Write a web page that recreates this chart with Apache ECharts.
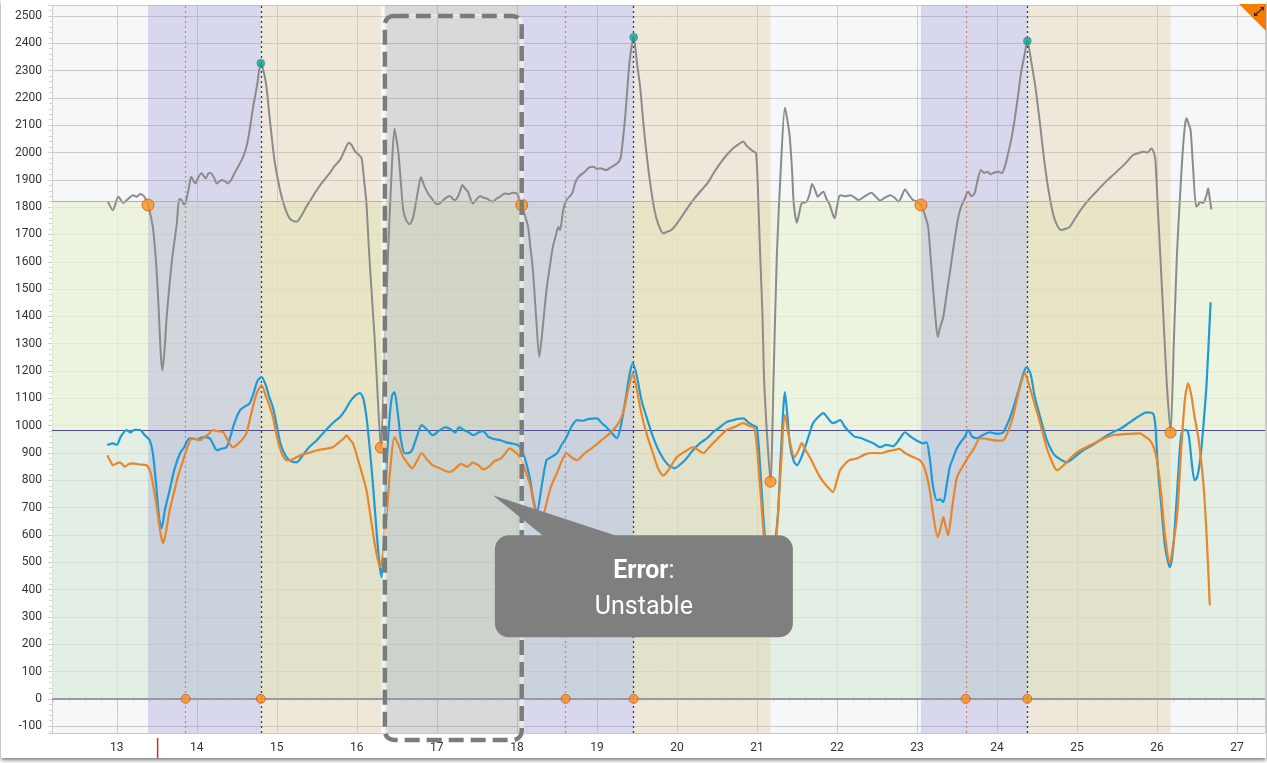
<!DOCTYPE html>
<html>
<head>
<meta charset="utf-8">
<script src="https://cdn.jsdelivr.net/npm/echarts@6/dist/echarts.min.js"></script>
<style>
  html, body { margin: 0; padding: 0; background: #ffffff; }
  #card { position: absolute; left: 1px; top: 0; width: 1265px; height: 758px; background: #fff;
          box-shadow: 0 2px 4px rgba(0,0,0,0.55); }
  #chart { width: 1265px; height: 758px; }
</style>
</head>
<body>
<div id="card"><div id="chart"></div></div>
<script>
// ---- axis ranges ----
const xRange = [12.19, 27.35];
const yRange = [-125, 2540];

// ---- pressure trace (grey) ----
const greyTrace = [
  [12.89,1820],[12.95,1789],[13.02,1838],[13.08,1816],[13.14,1830],[13.2,1844],[13.25,1838],[13.29,1848],[13.34,1840],[13.39,1808],
  [13.45,1728],[13.49,1600],[13.52,1447],[13.55,1260],[13.57,1203],[13.6,1290],[13.62,1386],[13.66,1520],[13.7,1631],[13.75,1740],
  [13.78,1830],[13.81,1826],[13.84,1810],[13.86,1816],[13.9,1870],[13.93,1911],[13.98,1887],[14.02,1910],[14.06,1924],[14.11,1905],
  [14.15,1925],[14.18,1924],[14.22,1905],[14.25,1887],[14.31,1899],[14.35,1895],[14.39,1887],[14.43,1900],[14.47,1924],[14.52,1950],
  [14.58,1985],[14.62,2020],[14.66,2082],[14.7,2160],[14.75,2241],[14.8,2327],[14.84,2290],[14.87,2241],[14.92,2100],[14.97,1973],
  [15.02,1890],[15.06,1838],[15.11,1790],[15.16,1759],[15.2,1750],[15.25,1747],[15.3,1765],[15.37,1802],[15.43,1830],[15.5,1863],
  [15.58,1895],[15.66,1924],[15.72,1950],[15.79,1973],[15.85,2010],[15.9,2036],[15.94,2025],[15.98,2003],[16.03,1990],[16.06,1979],
  [16.09,1900],[16.12,1814],[16.15,1650],[16.18,1509],[16.22,1330],[16.25,1167],[16.3,920],[16.35,1300],[16.39,1631],[16.43,1900],
  [16.47,2088],[16.5,2040],[16.52,1997],[16.55,1890],[16.58,1789],[16.62,1750],[16.66,1738],[16.7,1760],[16.73,1802],[16.77,1870],
  [16.8,1909],[16.84,1880],[16.89,1850],[16.94,1830],[17.0,1811],[17.04,1815],[17.08,1826],[17.12,1835],[17.16,1841],[17.2,1830],
  [17.23,1826],[17.28,1850],[17.32,1881],[17.36,1865],[17.39,1856],[17.42,1830],[17.45,1814],[17.5,1830],[17.54,1841],[17.58,1835],
  [17.62,1832],[17.66,1825],[17.7,1820],[17.74,1830],[17.79,1838],[17.85,1850],[17.9,1848],[17.95,1853],[18.0,1850],[18.06,1808],
  [18.1,1770],[18.14,1728],[18.17,1650],[18.2,1570],[18.24,1400],[18.28,1252],[18.32,1350],[18.37,1496],[18.41,1580],[18.45,1655],
  [18.49,1700],[18.52,1728],[18.54,1716],[18.58,1790],[18.62,1826],[18.69,1850],[18.73,1890],[18.77,1911],[18.85,1930],[18.9,1945],
  [18.96,1948],[19.0,1940],[19.04,1942],[19.12,1936],[19.17,1945],[19.22,1954],[19.27,1965],[19.3,1985],[19.35,2119],[19.38,2230],
  [19.41,2339],[19.46,2422],[19.5,2330],[19.54,2241],[19.58,2110],[19.62,1997],[19.67,1880],[19.72,1789],[19.77,1735],[19.83,1704],
  [19.88,1710],[19.93,1716],[20.0,1740],[20.06,1765],[20.14,1800],[20.22,1832],[20.3,1860],[20.38,1887],[20.46,1925],[20.54,1960],
  [20.62,1990],[20.7,2015],[20.77,2030],[20.83,2040],[20.87,2025],[20.91,2015],[20.95,2005],[20.99,1997],[21.02,1800],[21.04,1631],
  [21.07,1400],[21.09,1167],[21.13,950],[21.17,795],[21.21,1200],[21.25,1631],[21.3,1950],[21.35,2165],[21.38,2120],[21.41,2058],
  [21.44,1930],[21.46,1814],[21.5,1743],[21.53,1780],[21.56,1814],[21.62,1820],[21.66,1850],[21.69,1885],[21.73,1860],[21.76,1838],
  [21.8,1850],[21.83,1856],[21.87,1830],[21.91,1808],[21.97,1759],[22.0,1800],[22.04,1844],[22.1,1840],[22.17,1844],[22.22,1835],
  [22.27,1826],[22.35,1840],[22.43,1853],[22.48,1840],[22.54,1824],[22.6,1835],[22.67,1844],[22.72,1835],[22.77,1820],[22.81,1840],
  [22.85,1865],[22.9,1845],[22.95,1826],[23.0,1820],[23.05,1808],[23.1,1770],[23.14,1728],[23.17,1620],[23.2,1509],[23.23,1400],
  [23.26,1325],[23.29,1360],[23.33,1399],[23.37,1480],[23.41,1557],[23.46,1660],[23.51,1753],[23.55,1800],[23.59,1826],[23.64,1856],
  [23.68,1840],[23.72,1850],[23.76,1900],[23.8,1936],[23.84,1925],[23.88,1930],[23.92,1920],[23.96,1926],[24.02,1930],[24.06,1924],
  [24.1,1950],[24.14,1997],[24.18,2050],[24.22,2119],[24.26,2200],[24.3,2290],[24.34,2350],[24.38,2408],[24.43,2330],[24.48,2241],
  [24.54,2100],[24.59,1973],[24.64,1870],[24.7,1777],[24.75,1735],[24.8,1716],[24.85,1720],[24.91,1728],[24.98,1760],[25.06,1795],
  [25.14,1825],[25.22,1850],[25.3,1875],[25.38,1899],[25.46,1920],[25.54,1942],[25.62,1965],[25.7,1991],[25.77,1998],[25.83,2003],
  [25.88,2000],[25.93,2015],[25.96,2000],[25.98,1973],[26.01,1800],[26.04,1631],[26.08,1400],[26.12,1167],[26.17,975],[26.21,1300],
  [26.25,1631],[26.29,1850],[26.32,1997],[26.35,2100],[26.37,2125],[26.39,2110],[26.42,2082],[26.45,1950],[26.49,1802],[26.52,1810],
  [26.54,1820],[26.57,1815],[26.59,1820],[26.62,1845],[26.64,1869],[26.66,1830],[26.68,1792]
];

// ---- blue trace ----
const blueTrace = [
  [12.88,929],[12.95,935],[13.0,930],[13.05,960],[13.12,984],[13.17,975],[13.22,985],[13.29,984],[13.35,965],[13.41,947],
  [13.45,900],[13.49,790],[13.53,660],[13.56,625],[13.6,690],[13.66,764],[13.72,840],[13.79,899],[13.84,920],[13.88,945],
  [13.91,954],[14.0,950],[14.08,958],[14.16,954],[14.2,935],[14.25,910],[14.3,915],[14.37,921],[14.42,960],[14.47,1010],
  [14.54,1057],[14.6,1070],[14.66,1082],[14.71,1120],[14.76,1165],[14.81,1178],[14.86,1150],[14.9,1110],[14.95,1068],[15.0,1000],
  [15.05,930],[15.12,885],[15.18,870],[15.25,866],[15.32,890],[15.4,920],[15.5,947],[15.6,980],[15.7,1010],[15.79,1032],
  [15.86,1060],[15.92,1090],[15.98,1110],[16.04,1119],[16.08,1100],[16.12,1032],[16.16,920],[16.2,789],[16.25,600],[16.28,500],
  [16.31,445],[16.34,600],[16.37,850],[16.41,1032],[16.44,1110],[16.47,1123],[16.51,1050],[16.55,950],[16.6,899],[16.65,900],
  [16.69,910],[16.75,960],[16.81,1002],[16.88,985],[16.95,965],[17.02,980],[17.08,992],[17.12,994],[17.18,985],[17.23,975],
  [17.28,995],[17.33,985],[17.4,975],[17.46,965],[17.52,975],[17.58,980],[17.64,960],[17.7,952],[17.79,947],[17.86,940],
  [17.93,935],[18.0,930],[18.04,921],[18.1,880],[18.16,811],[18.2,740],[18.25,680],[18.3,760],[18.37,874],[18.43,885],
  [18.5,899],[18.56,930],[18.62,958],[18.68,995],[18.75,1020],[18.82,1018],[18.9,1025],[19.0,1027],[19.06,1010],[19.12,994],
  [19.18,975],[19.25,954],[19.3,1000],[19.36,1100],[19.41,1190],[19.45,1229],[19.5,1180],[19.56,1090],[19.62,1032],[19.7,960],
  [19.79,899],[19.88,860],[19.97,844],[20.05,860],[20.12,880],[20.2,910],[20.29,936],[20.38,955],[20.46,978],[20.54,995],
  [20.62,1013],[20.7,1020],[20.76,1025],[20.83,1027],[20.9,1010],[20.96,1000],[21.0,994],[21.04,850],[21.08,665],[21.12,530],
  [21.16,480],[21.2,520],[21.26,665],[21.3,900],[21.35,1123],[21.38,1040],[21.41,936],[21.46,870],[21.5,855],[21.55,880],
  [21.6,920],[21.65,965],[21.7,1009],[21.76,1030],[21.83,1046],[21.88,1030],[21.95,1009],[22.04,1020],[22.1,995],[22.16,976],
  [22.22,960],[22.3,955],[22.38,945],[22.46,935],[22.54,921],[22.62,930],[22.7,925],[22.78,950],[22.85,976],[22.92,960],
  [23.0,945],[23.08,935],[23.12,940],[23.16,880],[23.2,780],[23.25,727],[23.29,730],[23.33,720],[23.37,780],[23.41,848],
  [23.45,880],[23.5,917],[23.56,945],[23.6,960],[23.64,984],[23.69,960],[23.75,954],[23.82,965],[23.91,976],[24.0,970],
  [24.08,976],[24.12,1000],[24.16,1027],[24.22,1080],[24.28,1140],[24.33,1190],[24.37,1214],[24.42,1190],[24.47,1110],[24.54,1032],
  [24.62,950],[24.7,900],[24.75,885],[24.87,866],[24.95,880],[25.03,900],[25.12,917],[25.2,930],[25.3,950],[25.38,965],
  [25.45,976],[25.55,990],[25.65,1010],[25.75,1030],[25.87,1049],[25.95,1045],[25.98,1000],[26.01,848],[26.05,720],[26.1,560],
  [26.16,482],[26.2,544],[26.25,750],[26.29,930],[26.32,984],[26.37,984],[26.4,960],[26.44,850],[26.47,800],[26.5,810],
  [26.54,874],[26.58,1000],[26.62,1155],[26.67,1452]
];

// ---- orange trace ----
const orangeTrace = [
  [12.88,892],[12.92,870],[12.95,855],[13.0,862],[13.04,866],[13.1,850],[13.15,860],[13.2,862],[13.28,858],[13.37,855],
  [13.42,830],[13.45,789],[13.5,700],[13.55,600],[13.58,570],[13.62,620],[13.66,690],[13.7,738],[13.76,810],[13.83,874],
  [13.88,920],[13.94,954],[14.0,950],[14.04,947],[14.1,960],[14.15,970],[14.2,984],[14.26,980],[14.33,976],[14.38,950],
  [14.45,921],[14.5,930],[14.57,950],[14.62,972],[14.66,1020],[14.7,1068],[14.75,1120],[14.81,1148],[14.86,1110],[14.9,1080],
  [14.95,1032],[15.0,960],[15.06,900],[15.12,874],[15.18,875],[15.25,885],[15.32,895],[15.4,900],[15.5,910],[15.6,915],
  [15.7,921],[15.78,940],[15.84,955],[15.87,965],[15.91,950],[15.95,936],[16.0,890],[16.06,830],[16.12,764],[16.18,650],
  [16.24,540],[16.29,482],[16.33,540],[16.37,665],[16.42,850],[16.47,958],[16.52,930],[16.58,885],[16.64,860],[16.69,844],
  [16.75,870],[16.81,899],[16.88,875],[16.95,855],[17.03,845],[17.1,835],[17.16,830],[17.22,840],[17.3,860],[17.38,850],
  [17.45,865],[17.52,855],[17.58,840],[17.65,850],[17.72,870],[17.8,880],[17.86,900],[17.91,917],[17.97,905],[18.04,885],
  [18.1,840],[18.16,789],[18.2,730],[18.25,660],[18.3,640],[18.34,680],[18.37,716],[18.43,780],[18.5,826],[18.56,870],
  [18.62,899],[18.68,885],[18.75,874],[18.85,900],[18.95,921],[19.05,945],[19.16,972],[19.25,1000],[19.33,1049],[19.39,1130],
  [19.45,1192],[19.5,1130],[19.56,1040],[19.62,972],[19.7,900],[19.77,840],[19.83,818],[19.9,840],[20.0,885],[20.1,905],
  [20.2,921],[20.27,910],[20.33,899],[20.4,920],[20.5,950],[20.62,984],[20.72,995],[20.83,1009],[20.9,1000],[20.97,990],
  [21.02,850],[21.08,617],[21.12,480],[21.16,420],[21.2,480],[21.25,617],[21.3,850],[21.35,1040],[21.4,960],[21.47,885],
  [21.52,910],[21.56,936],[21.61,910],[21.66,885],[21.72,850],[21.79,811],[21.87,780],[21.95,757],[22.0,800],[22.04,837],
  [22.1,860],[22.16,874],[22.25,880],[22.35,895],[22.45,900],[22.55,899],[22.62,905],[22.7,910],[22.78,915],[22.85,900],
  [22.95,885],[23.03,875],[23.08,855],[23.12,820],[23.16,764],[23.2,680],[23.26,592],[23.3,630],[23.33,665],[23.36,630],
  [23.39,599],[23.44,700],[23.5,811],[23.57,850],[23.64,885],[23.72,920],[23.79,954],[23.9,950],[24.0,945],[24.08,947],
  [24.14,980],[24.2,1032],[24.27,1120],[24.35,1192],[24.4,1150],[24.47,1080],[24.54,1009],[24.62,920],[24.7,860],[24.75,837],
  [24.85,860],[24.95,890],[25.04,910],[25.14,925],[25.25,940],[25.35,955],[25.45,965],[25.55,968],[25.65,970],[25.79,972],
  [25.85,960],[25.91,947],[25.96,920],[26.0,874],[26.05,760],[26.1,600],[26.16,496],[26.2,560],[26.25,665],[26.3,900],
  [26.35,1100],[26.39,1155],[26.43,1110],[26.47,1032],[26.52,950],[26.58,789],[26.62,600],[26.66,342]
];

// ---- event markers ----
const onsetPoints  = [[13.39,1808],[18.06,1808],[23.05,1808]];
const troughPoints = [[16.3,920],[21.17,795],[26.17,975]];
const peakPoints   = [[14.8,2327],[19.46,2422],[24.38,2408]];
const baselineEvents = [[13.86,0],[14.8,0],[18.61,0],[19.46,0],[23.61,0],[24.38,0]];
const redCursorX = [13.86, 18.61, 23.61];
const peakCursorX = [14.8, 19.46, 24.38];
const axisCursorX = 13.51;

// ---- phase bands ----
const phaseA = [[13.39,14.8],[18.06,19.46],[23.05,24.38]];   // rising phase
const phaseB = [[14.8,16.3],[19.46,21.17],[24.38,26.17]];    // falling phase
const errorSpan = [16.35, 18.06];
const upperLimit = 1822;
const refLevel = 985;

// ---- callout ----
const calloutAnchor = [17.7, 745];
const calloutTitle = 'Error';
const calloutText = 'Unstable';

const chart = echarts.init(document.getElementById('chart'), null, { renderer: 'canvas' });

const bandAreas = []
  .concat(phaseA.map(r => [{ xAxis: r[0], itemStyle: { color: 'rgba(150,152,212,0.32)' } }, { xAxis: r[1] }]))
  .concat(phaseB.map(r => [{ xAxis: r[0], itemStyle: { color: 'rgba(224,200,150,0.32)' } }, { xAxis: r[1] }]))
  .concat([[{ xAxis: errorSpan[0], itemStyle: { color: 'rgba(150,150,150,0.30)' } }, { xAxis: errorSpan[1] }]]);

const fmtInt = v => (Math.abs(v - Math.round(v)) < 1e-6 ? String(Math.round(v)) : '');
const fmtHundred = v => (Math.abs(v % 100) < 1e-6 ? String(v) : '');

chart.setOption({
  animation: false,
  backgroundColor: '#ffffff',
  textStyle: { fontFamily: 'Roboto, "Noto Sans", sans-serif' },
  grid: { left: 51, right: 1, top: 5, bottom: 25, show: true, backgroundColor: '#f6f7f9', borderWidth: 0 },
  xAxis: {
    type: 'value', min: xRange[0], max: xRange[1], splitNumber: 15,
    axisLine: { show: true, lineStyle: { color: '#d6d6d6' } },
    axisTick: { show: true, length: 8, lineStyle: { color: '#c8c8c8' } },
    minorTick: { show: true, splitNumber: 5, length: 3, lineStyle: { color: '#d0d0d0' } },
    axisLabel: { color: '#333', fontSize: 12, margin: 9, showMinLabel: false, showMaxLabel: false, formatter: fmtInt },
    splitLine: { show: true, lineStyle: { color: '#cdcdcd', width: 1 } }
  },
  yAxis: {
    type: 'value', min: yRange[0], max: yRange[1], splitNumber: 27,
    axisLine: { show: false },
    axisTick: { show: true, length: 4, lineStyle: { color: '#cfcfcf' } },
    minorTick: { show: true, splitNumber: 5, length: 3, lineStyle: { color: '#d5d5d5' } },
    axisLabel: { color: '#333', fontSize: 12, margin: 10, showMinLabel: false, showMaxLabel: false, formatter: fmtHundred },
    splitLine: { show: true, lineStyle: { color: '#c9c9c9', width: 1 } }
  },
  series: [
    { // horizontal zones
      type: 'line', data: [], z: 1, silent: true,
      markArea: { silent: true, data: [
        [{ yAxis: refLevel, itemStyle: { color: 'rgba(232,242,214,0.75)' } }, { yAxis: upperLimit }],
        [{ yAxis: 0, itemStyle: { color: 'rgba(220,234,220,0.7)' } }, { yAxis: refLevel }]
      ] }
    },
    { // phase bands
      type: 'line', data: [], z: 2, silent: true,
      markArea: { silent: true, data: bandAreas }
    },
    { // reference lines
      type: 'line', data: [], z: 3, silent: true,
      markLine: { silent: true, symbol: ['none', 'none'], label: { show: false }, data:
        redCursorX.map(x => ({ xAxis: x, lineStyle: { color: '#e27575', width: 1.2, type: [2, 3] } }))
        .concat(peakCursorX.map(x => ({ xAxis: x, lineStyle: { color: '#3a3a55', width: 1.3, type: [2, 3] } })))
        .concat([
          { yAxis: upperLimit, lineStyle: { color: '#a8b0c2', width: 1, type: 'solid' } },
          { yAxis: refLevel, lineStyle: { color: '#4d4d8e', width: 1, type: 'solid' } },
          { yAxis: 0, lineStyle: { color: '#979aa0', width: 2, type: 'solid' } }
        ]) }
    },
    { name: 'pressure', type: 'line', data: greyTrace, showSymbol: false, smooth: 0.25, z: 4,
      lineStyle: { color: '#8b8b8b', width: 2 } },
    { name: 'blue', type: 'line', data: blueTrace, showSymbol: false, smooth: 0.25, z: 5,
      lineStyle: { color: '#1f9ad6', width: 2.2 } },
    { name: 'orange', type: 'line', data: orangeTrace, showSymbol: false, smooth: 0.25, z: 6,
      lineStyle: { color: '#e8862c', width: 2.2 } },
    { type: 'scatter', data: onsetPoints, symbolSize: 12, z: 8,
      itemStyle: { color: '#f7941d', borderColor: '#d8551c', borderWidth: 1 } },
    { type: 'scatter', data: troughPoints, symbolSize: 11, z: 8,
      itemStyle: { color: '#f7941d', borderColor: '#d8551c', borderWidth: 1 } },
    { type: 'scatter', data: baselineEvents, symbolSize: 9, z: 8,
      itemStyle: { color: '#f7941d', borderColor: '#d8551c', borderWidth: 1 } },
    { type: 'scatter', data: peakPoints, symbolSize: 8, z: 8,
      itemStyle: { color: '#18a096', borderColor: '#128a80', borderWidth: 0.5 } }
  ]
});

function drawOverlays() {
  const px = (x, y) => chart.convertToPixel({ gridIndex: 0 }, [x, y]);
  const [bx0, by0] = px(errorSpan[0], 2500);
  const [bx1, axisY] = px(errorSpan[1], yRange[0]);
  const by1 = axisY + 7;
  const [tipX, tipY] = px(calloutAnchor[0], calloutAnchor[1]);
  const [cursorX, cursorY] = px(axisCursorX, yRange[0]);
  const W = chart.getWidth();

  chart.setOption({
    graphic: [
      { type: 'rect', z: 50, silent: true,
        shape: { x: bx0, y: by0, width: bx1 - bx0, height: by1 - by0, r: 9 },
        style: { fill: 'none', stroke: 'rgba(255,255,255,0.45)', lineWidth: 4 } },
      { type: 'rect', z: 51, silent: true,
        shape: { x: bx0, y: by0, width: bx1 - bx0, height: by1 - by0, r: 9 },
        style: { fill: 'none', stroke: '#7b7b7b', lineWidth: 4.5, lineDash: [15, 7] } },
      { type: 'polygon', z: 60, silent: true,
        shape: { points: [[tipX, tipY], [tipX + 52, tipY + 42], [tipX + 128, tipY + 42]] },
        style: { fill: '#7f7f7f' } },
      { type: 'rect', z: 60, silent: true,
        shape: { x: tipX + 2, y: tipY + 40, width: 298, height: 102, r: 14 },
        style: { fill: '#7f7f7f' } },
      { type: 'text', z: 61, silent: true, x: tipX + 151, y: tipY + 94,
        style: { text: '{b|' + calloutTitle + '}{n|:}\n{n|' + calloutText + '}',
          align: 'center', verticalAlign: 'middle', fill: '#fff',
          rich: {
            b: { fontSize: 25, fontWeight: 'bold', fill: '#fff', fontFamily: 'Roboto', lineHeight: 36 },
            n: { fontSize: 25, fill: '#fff', fontFamily: 'Roboto', lineHeight: 36 }
          } } },
      { type: 'line', z: 40, silent: true,
        shape: { x1: cursorX, y1: cursorY + 5, x2: cursorX, y2: cursorY + 25 },
        style: { stroke: '#c0392b', lineWidth: 1.5 } },
      { type: 'polygon', z: 70, silent: true,
        shape: { points: [[W - 27, 4], [W, 4], [W, 31]] },
        style: { fill: '#f57c00' } },
      { type: 'line', z: 71, silent: true,
        shape: { x1: W - 11, y1: 15, x2: W - 3, y2: 8 },
        style: { stroke: '#3a2a1a', lineWidth: 1.2 } },
      { type: 'polygon', z: 71, silent: true,
        shape: { points: [[W - 12, 16], [W - 12, 12], [W - 8, 16]] },
        style: { fill: '#3a2a1a' } },
      { type: 'polygon', z: 71, silent: true,
        shape: { points: [[W - 2, 7], [W - 6, 7], [W - 2, 11]] },
        style: { fill: '#3a2a1a' } }
    ]
  });
}
drawOverlays();
</script>
</body>
</html>
